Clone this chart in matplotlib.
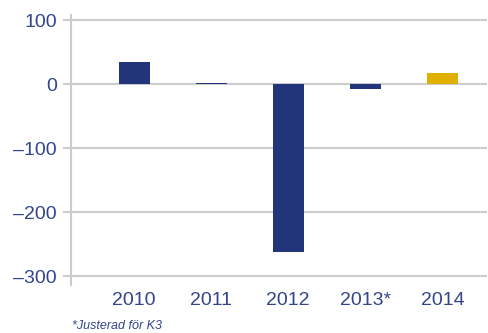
import matplotlib
matplotlib.use("Agg")
import matplotlib.pyplot as plt

years = ["2010", "2011", "2012", "2013*", "2014"]
values = [35, 2.5, -263, -7, 18]
colors = ["#22357a", "#22357a", "#22357a", "#22357a", "#e0b000"]
yticks = [100, 0, -100, -200, -300]

text_col = "#33448c"
grid_col = "#cccccc"

plt.rcParams['font.family'] = ['Liberation Sans', 'DejaVu Sans']

fig = plt.figure(figsize=(4.88, 3.33), dpi=100)
ax = fig.add_axes([71 / 488, 1 - 285 / 333, 416 / 488, 270 / 333])

x = list(range(len(years)))
ax.bar(x, values, width=0.4, color=colors, zorder=2)

ax.set_xlim(-0.82, 4.58)
ax.set_ylim(-314, 108)
ax.set_yticks(yticks)
ax.set_yticklabels([f"{v}" if v >= 0 else f"\u2013{abs(v)}" for v in yticks])
ax.set_xticks(x)
ax.set_xticklabels(years)

ax.grid(axis='y', color=grid_col, linewidth=1.5, zorder=1)
ax.set_axisbelow(True)
for s in ["top", "right", "bottom"]:
    ax.spines[s].set_visible(False)
ax.spines["left"].set_color(grid_col)
ax.spines["left"].set_linewidth(1.5)

ax.tick_params(axis='y', colors=grid_col, labelcolor=text_col, labelsize=14,
               length=6, width=1.5, pad=4)
ax.tick_params(axis='x', length=0, labelcolor=text_col, labelsize=14, pad=5)

fig.text(72 / 488, 1 - 326 / 333, "*Justerad för K3", color=text_col,
         fontsize=9, style='italic', va='center', ha='left')

fig.savefig("out.png", dpi=100)
